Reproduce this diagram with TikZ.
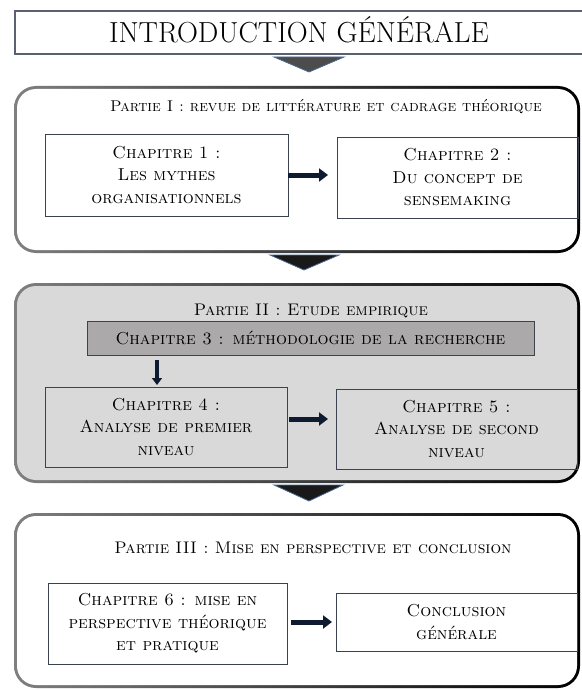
\documentclass[tikz,border=0pt]{standalone}
\usepackage{fontspec}
\usetikzlibrary{arrows.meta}

\definecolor{boxline}{HTML}{3B4350}
\definecolor{introline}{HTML}{5A6272}
\definecolor{partgrey}{HTML}{D9D9D9}
\definecolor{chapgrey}{HTML}{ABA9A9}
\definecolor{arrownavy}{HTML}{0E1A30}
\definecolor{edgeblue}{HTML}{4A6A96}

\tikzstyle{every node}=[font=\fontsize{17.3}{22.5}\selectfont\scshape, align=center, inner sep=0pt, outer sep=0pt]
\tikzstyle{frame}=[rounded corners=22pt, left color=black!50, middle color=black, right color=black]
\tikzstyle{framein}=[rounded corners=19pt, fill=white]
\tikzstyle{chapbox}=[draw=boxline, line width=0.9pt]
\tikzstyle{parttitle}=[anchor=base, font=\fontsize{16.8}{20}\selectfont\scshape]
\tikzstyle{link}=[draw=arrownavy, line width=5pt, -{Triangle[length=9pt,width=13pt]}]
\tikzstyle{downlink}=[draw=arrownavy, line width=3.5pt, -{Triangle[length=7pt,width=10pt]}]
\tikzstyle{tri}=[draw=edgeblue, line width=0.8pt]

\begin{document}
\begin{tikzpicture}[x=1pt, y=-1pt]
    \useasboundingbox (0,0) rectangle (581,690);
    \fill[white] (0,0) rectangle (581,690);
% Introduction
    \node[draw=introline, line width=1.3pt, minimum width=569pt, minimum height=43pt] (intro) at (299.5,32.5) {};
    \node[anchor=base, font=\fontsize{29}{32}\selectfont\upshape] (introtext) at (299,43) {INTRODUCTION GÉNÉRALE};
% Frames of the parts
    \node[frame, minimum width=566pt, minimum height=167pt] (part1) at (297,169.5) {};
    \node[framein, minimum width=560pt, minimum height=161pt] (part1in) at (part1) {};
    \node[frame, minimum width=566pt, minimum height=200pt] (part2) at (297,383) {};
    \node[framein, fill=partgrey, minimum width=560pt, minimum height=194pt] (part2in) at (part2) {};
    \node[frame, minimum width=566pt, minimum height=175pt] (part3) at (297,600.5) {};
    \node[framein, minimum width=560pt, minimum height=169pt] (part3in) at (part3) {};
% Triangles between the parts
    \path[tri, fill=black!70] (274,57) -- (344,57) -- (309,72) -- cycle;
    \path[tri, fill=black!90] (270,255) -- (339,255) -- (304,270) -- cycle;
    \path[tri, fill=black!90] (274,485) -- (343,485) -- (309,501) -- cycle;
% Titles
    \node[parttitle, font=\fontsize{15.6}{20}\selectfont\scshape] (title1) at (326,112) {Partie I : revue de littérature et cadrage théorique};
    \node[parttitle] (title2) at (311,315) {Partie II : Etude empirique};
    \node[parttitle] (title3) at (313,553) {Partie III : Mise en perspective et conclusion};
% Chapters
    \node[chapbox, minimum width=243pt, minimum height=82pt] (ch1) at (166.5,175) {Chapitre 1 :\\ Les mythes\\ organisationnels};
    \node[chapbox, minimum width=241pt, minimum height=81pt] (ch2) at (457.5,177.5) {Chapitre 2 :\\ Du concept de\\ sensemaking};
    \node[chapbox, fill=chapgrey, minimum width=447pt, minimum height=34pt] (ch3) at (310.5,338) {Chapitre 3 : méthodologie de la recherche};
    \node[chapbox, minimum width=242pt, minimum height=80pt] (ch4) at (166,427) {Chapitre 4 :\\ Analyse de premier\\ niveau};
    \node[chapbox, minimum width=241pt, minimum height=80pt] (ch5) at (456.5,429) {Chapitre 5 :\\ Analyse de second\\ niveau};
    \node[chapbox, minimum width=239pt, minimum height=81pt] (ch6) at (167.5,623.5) {Chapitre 6 : mise en\\ perspective théorique\\ et pratique};
    \node[chapbox, minimum width=241pt, minimum height=58pt] (concl) at (456.5,622) {Conclusion\\ générale};
% Arrows
    \draw[link, shorten >=9pt] (ch1.east) -- (ch1.east -| ch2.west);
    \draw[downlink, shorten <=5pt, shorten >=2pt] (ch3.south -| 157,0) -- (ch4.north -| 157,0);
    \draw[link, shorten <=2pt, shorten >=8pt] (ch4.east |- 0,419) -- (ch5.west |- 0,419);
    \draw[link, shorten <=4pt, shorten >=4pt] (ch6.east |- 0,622) -- (concl.west |- 0,622);
\end{tikzpicture}
\end{document}
